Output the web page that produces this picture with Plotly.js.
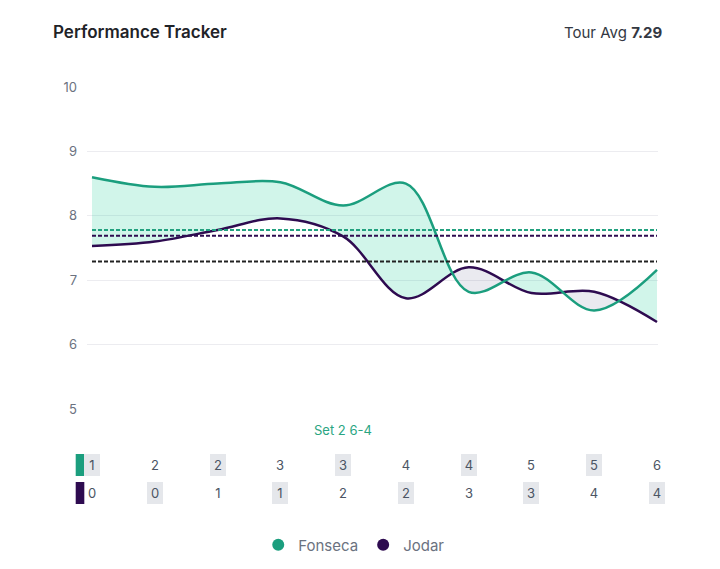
<!DOCTYPE html>
<html><head><meta charset="utf-8">
<script src="https://cdn.plot.ly/plotly-3.0.1.min.js"></script>
<style>html,body{margin:0;padding:0;background:#fff}#chart{width:720px;height:569px}</style>
</head><body><div id="chart"></div>
<script>
// ---- data ----
const games = [0, 1, 2, 3, 4, 5, 6, 7, 8, 9];
const fonsecaRating = [8.6, 8.45, 8.5, 8.52, 8.16, 8.5, 6.82, 7.12, 6.53, 7.16];
const jodarRating   = [7.53, 7.6, 7.78, 7.96, 7.68, 6.72, 7.2, 6.8, 6.82, 6.35];
const fonsecaAvg = 7.78;
const jodarAvg = 7.69;
const tourAvg = 7.29;
const fonsecaGames = [1, 2, 2, 3, 3, 4, 4, 5, 5, 6];
const jodarGames   = [0, 0, 1, 1, 2, 2, 3, 3, 4, 4];
const fonsecaServe = [1, 0, 1, 0, 1, 0, 1, 0, 1, 0];
const jodarServe   = [0, 1, 0, 1, 0, 1, 0, 1, 0, 1];
const setLabel = 'Set 2 6-4';
const setLabelGame = 4;
const yTicks = [5, 6, 7, 8, 9, 10];
const players = ['Fonseca', 'Jodar'];

// ---- styles ----
const green = '#1b9e7e';
const purple = '#2e0b50';
const mintFill = 'rgba(25,205,150,0.2)';
const greyFill = 'rgba(45,45,105,0.1)';
const FONT = 'Inter, "Noto Sans", sans-serif';

const base = {x: games, type: 'scatter', mode: 'lines', hoverinfo: 'skip', showlegend: false,
              line: {shape: 'spline', width: 0}};
const data = [
  Object.assign({}, base, {y: fonsecaRating}),
  Object.assign({}, base, {y: jodarRating, fill: 'tonexty', fillcolor: mintFill}),
  Object.assign({}, base, {y: fonsecaRating}),
  Object.assign({}, base, {y: jodarRating, fill: 'tonexty', fillcolor: greyFill}),
  Object.assign({}, base, {y: jodarRating, line: {shape: 'spline', width: 2.5, color: purple}}),
  Object.assign({}, base, {y: fonsecaRating, line: {shape: 'spline', width: 2.5, color: green}}),
  {x: [null], y: [null], type: 'scatter', mode: 'markers', name: players[0], marker: {size: 12, color: green}},
  {x: [null], y: [null], type: 'scatter', mode: 'markers', name: players[1], marker: {size: 12, color: purple}}
];

const last = games[games.length - 1];
const shapes = [
  {type: 'line', xref: 'x', yref: 'y', x0: games[0], x1: last, y0: fonsecaAvg, y1: fonsecaAvg, line: {color: '#22a17f', width: 2, dash: '4px,2px'}},
  {type: 'line', xref: 'x', yref: 'y', x0: games[0], x1: last, y0: jodarAvg, y1: jodarAvg, line: {color: purple, width: 2, dash: '4px,2px'}},
  {type: 'line', xref: 'x', yref: 'y', x0: games[0], x1: last, y0: tourAvg, y1: tourAvg, line: {color: '#222222', width: 2, dash: '4px,2px'}},
  {type: 'rect', xref: 'paper', yref: 'paper', x0: -0.0198, x1: -0.0047, y0: -0.1398, y1: -0.2081, fillcolor: green, line: {width: 0}},
  {type: 'rect', xref: 'paper', yref: 'paper', x0: -0.0198, x1: -0.0047, y0: -0.2267, y1: -0.2950, fillcolor: purple, line: {width: 0}}
];

const annotations = [
  {xref: 'paper', yref: 'paper', x: 1.0105, y: 1.1708, xanchor: 'right', yanchor: 'middle', showarrow: false,
   text: 'Tour Avg <b>' + tourAvg.toFixed(2) + '</b>', font: {size: 15, color: '#333842', family: FONT}},
  {xref: 'x', yref: 'paper', x: games[setLabelGame], y: -0.0652, xanchor: 'center', yanchor: 'middle', showarrow: false,
   text: setLabel, font: {size: 13, color: '#2aa582', family: FONT}}
];
function scoreRow(vals, hl, y) {
  vals.forEach((v, i) => {
    annotations.push({xref: 'x', yref: 'paper', x: games[i], y: y, xanchor: 'center', yanchor: 'middle',
      showarrow: false, text: String(v), width: 16, height: 22, borderpad: 0, borderwidth: 0,
      bgcolor: hl[i] ? '#e5e7eb' : 'rgba(0,0,0,0)', font: {size: 13, color: '#4b5563', family: FONT}});
  });
}
scoreRow(fonsecaGames, fonsecaServe, -0.1739);
scoreRow(jodarGames, jodarServe, -0.2609);

const layout = {
  width: 720, height: 569,
  margin: {l: 87, r: 62, t: 87, b: 160, autoexpand: false},
  paper_bgcolor: '#ffffff', plot_bgcolor: '#ffffff',
  font: {family: FONT, color: '#4b5563'},
  title: {text: 'Performance Tracker', xref: 'container', yref: 'container', x: 53 / 720, y: 1 - 32 / 569,
          xanchor: 'left', yanchor: 'middle', font: {size: 17, color: '#1f2328', family: FONT, weight: 600}},
  xaxis: {range: [-0.0796, 9.016], showgrid: false, showticklabels: false, zeroline: false, showline: false, fixedrange: true, automargin: false},
  yaxis: {range: [5, 10], tickvals: yTicks, ticktext: yTicks.map(String), showgrid: true, gridcolor: '#ececf0', gridwidth: 1,
          zeroline: false, showline: false, ticks: '', ticklabelstandoff: 9, automargin: false,
          tickfont: {size: 13, color: '#6b7280', family: FONT}, fixedrange: true},
  showlegend: true,
  legend: {orientation: 'h', xref: 'container', x: 0.492, xanchor: 'center', yref: 'container', y: 1 - 545 / 569, yanchor: 'middle',
           font: {size: 15, color: '#6b7280', family: FONT}, itemwidth: 30, traceorder: 'normal'},
  shapes: shapes,
  annotations: annotations
};

Plotly.newPlot('chart', data, layout, {staticPlot: true, displayModeBar: false}).then(gd => {
  const ns = 'http://www.w3.org/2000/svg';
  const svg = gd.querySelector('svg.main-svg');
  let defs = svg.querySelector('defs');
  if (!defs) { defs = document.createElementNS(ns, 'defs'); svg.insertBefore(defs, svg.firstChild); }
  const traces = gd.querySelectorAll('.scatterlayer .trace');
  const fLine = traces[5] && traces[5].querySelector('.js-line');
  if (!fLine) return;
  const d = fLine.getAttribute('d');
  function mkClip(id, pd) {
    const cp = document.createElementNS(ns, 'clipPath');
    cp.setAttribute('id', id);
    const p = document.createElementNS(ns, 'path');
    p.setAttribute('d', pd);
    cp.appendChild(p);
    defs.appendChild(cp);
  }
  mkClip('clipBelowF', d + 'V5000H-5000Z');
  mkClip('clipAboveF', d + 'V-5000H-5000Z');
  const fills = Array.from(gd.querySelectorAll('.scatterlayer .js-fill')).filter(p => (p.getAttribute('d') || '').length > 2);
  fills.forEach(p => {
    const op = parseFloat(p.style.fillOpacity || '1');
    if (Math.abs(op - 0.2) < 0.01) p.setAttribute('clip-path', 'url(#clipBelowF)');
    else if (Math.abs(op - 0.1) < 0.01) p.setAttribute('clip-path', 'url(#clipAboveF)');
  });
});
</script>
</body></html>
